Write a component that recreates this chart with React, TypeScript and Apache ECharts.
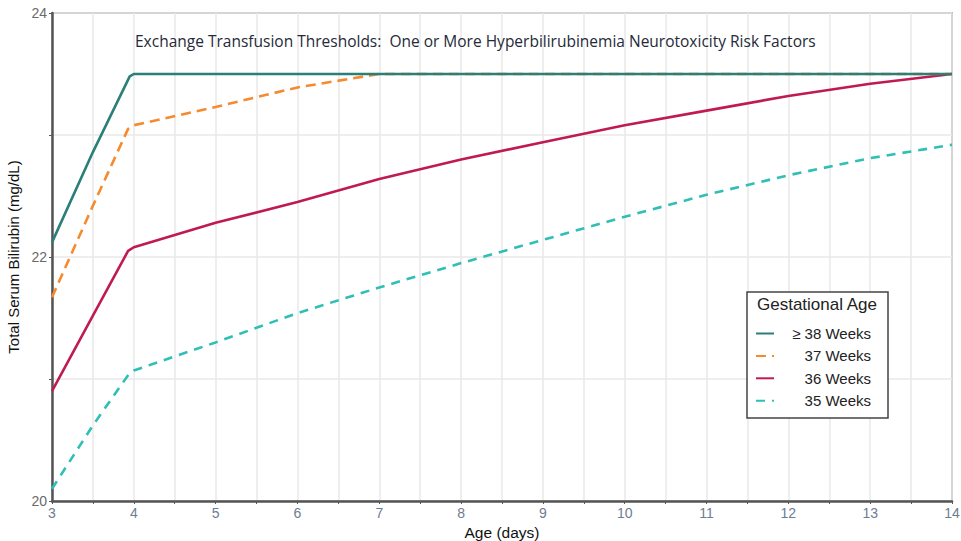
import React, { useEffect, useRef } from "react";
import * as echarts from "echarts";

const seriesNames = ["≥ 38 Weeks", "37 Weeks", "36 Weeks", "35 Weeks"];

const ge38Days = [3, 3.5, 3.95, 4, 14];
const ge38Values = [22.12, 22.86, 23.48, 23.5, 23.5];

const w37Days = [3, 3.5, 3.93, 4, 5, 6, 7, 14];
const w37Values = [21.67, 22.42, 23.05, 23.08, 23.23, 23.39, 23.5, 23.5];

const w36Days = [3, 3.5, 3.93, 4, 5, 6, 7, 8, 9, 10, 11, 12, 13, 14];
const w36Values = [20.9, 21.52, 22.05, 22.08, 22.28, 22.45, 22.64, 22.8, 22.94, 23.08, 23.2, 23.32, 23.42, 23.5];

const w35Days = [3, 3.5, 3.95, 4, 5, 6, 7, 8, 9, 10, 11, 12, 13, 14];
const w35Values = [20.1, 20.62, 21.05, 21.07, 21.3, 21.54, 21.75, 21.95, 22.14, 22.33, 22.51, 22.67, 22.81, 22.92];

const xTickLabels = ["3", "4", "5", "6", "7", "8", "9", "10", "11", "12", "13", "14"];
const yTickLabels = ["20", "22", "24"];

const chartTitle =
  "Exchange Transfusion Thresholds:  One or More Hyperbilirubinemia Neurotoxicity Risk Factors";
const legendTitle = "Gestational Age";

const zip = (xs: number[], ys: number[]) => xs.map((x, i) => [x, ys[i]]);

export default function App() {
  const ref = useRef<HTMLDivElement>(null);
  useEffect(() => {
    if (!ref.current) return;
    const chart = echarts.init(ref.current, undefined, { renderer: "svg" });
    const font = "Liberation Sans, Arial, sans-serif";
    const mk = (i: number, xs: number[], ys: number[], color: string, type: any) => ({
      name: seriesNames[i],
      type: "line",
      data: zip(xs, ys),
      symbol: "none",
      showSymbol: false,
      lineStyle: { color, width: 2.6, type, cap: "butt" },
      itemStyle: { color },
      z: 10 - i,
    });
    chart.setOption({
      animation: false,
      backgroundColor: "#ffffff",
      grid: {
        left: 52,
        top: 13,
        right: 9,
        bottom: 40,
        outerBoundsMode: "none",
        containLabel: false,
        show: true,
        borderColor: "#7a7a7a",
        borderWidth: 1.5,
      },
      xAxis: {
        type: "value",
        min: 3,
        max: 14,
        interval: 0.5,
        name: "Age (days)",
        nameLocation: "middle",
        nameGap: 16,
        nameTextStyle: { color: "#111", fontSize: 15.5, fontFamily: font },
        axisLine: { show: true, onZero: false, lineStyle: { color: "#555", width: 2.5 } },
        axisTick: {
          show: true,
          length: 3,
          lineStyle: { color: "#555", width: 1 },
          interval: (_i: number, v: any) => Number(v) % 1 === 0,
        },
        axisLabel: {
          color: "#6e7c92",
          fontSize: 14,
          fontFamily: font,
          margin: 5,
          formatter: (v: number) => (v % 1 === 0 ? xTickLabels[v - 3] ?? "" : ""),
        },
        splitLine: { show: true, lineStyle: { color: "#e8e8e8", width: 1.5 } },
      },
      yAxis: {
        type: "value",
        min: 20,
        max: 24,
        interval: 1,
        name: "Total Serum Bilirubin (mg/dL)",
        nameLocation: "middle",
        nameGap: 25,
        nameRotate: 90,
        nameTextStyle: { color: "#111", fontSize: 15, fontFamily: font },
        axisLine: { show: true, lineStyle: { color: "#555", width: 2.5 } },
        axisTick: {
          show: true,
          length: 3,
          lineStyle: { color: "#555", width: 1 },
          interval: (_i: number, v: any) => Number(v) % 2 === 0,
        },
        axisLabel: {
          color: "#6a6a6a",
          fontSize: 14,
          fontFamily: font,
          margin: 5,
          formatter: (v: number) => (v % 2 === 0 ? yTickLabels[(v - 20) / 2] ?? "" : ""),
        },
        splitLine: { show: true, lineStyle: { color: "#e8e8e8", width: 1.5 } },
      },
      legend: {
        orient: "vertical",
        left: 755,
        top: 326,
        padding: 0,
        itemWidth: 18,
        itemHeight: 14,
        itemGap: 7.4,
        data: seriesNames,
        itemStyle: { opacity: 0 },
        formatter: (name: string) => `{r|${name}}`,
        textStyle: {
          rich: {
            r: { width: 92, align: "right", fontSize: 15, fontFamily: font, color: "#222" },
          },
        },
        z: 20,
      },
      graphic: [
        {
          type: "rect",
          shape: { x: 747, y: 292, width: 141, height: 126 },
          style: { fill: "#ffffff", stroke: "#444", lineWidth: 1.5 },
          z: 15,
        },
        {
          type: "text",
          x: 817,
          y: 304,
          style: {
            text: legendTitle,
            fontSize: 17,
            fontFamily: font,
            fill: "#222",
            align: "center",
            verticalAlign: "middle",
          },
          z: 16,
        },
        {
          type: "text",
          x: 135,
          y: 41,
          style: {
            text: chartTitle,
            fontSize: 15.5,
            fontFamily: "Open Sans, sans-serif",
            fill: "#252a38",
            align: "left",
            verticalAlign: "middle",
          },
          z: 16,
        },
      ],
      series: [
        mk(3, w35Days, w35Values, "#2fbfb4", [9, 7]),
        mk(2, w36Days, w36Values, "#c01a55", "solid"),
        mk(1, w37Days, w37Values, "#f58a2e", [10, 6]),
        mk(0, ge38Days, ge38Values, "#2a7f78", "solid"),
      ],
    });
    return () => chart.dispose();
  }, []);
  return (
    <div
      ref={ref}
      style={{ position: "fixed", left: 0, top: 0, width: 961, height: 541, background: "#fff" }}
    />
  );
}
